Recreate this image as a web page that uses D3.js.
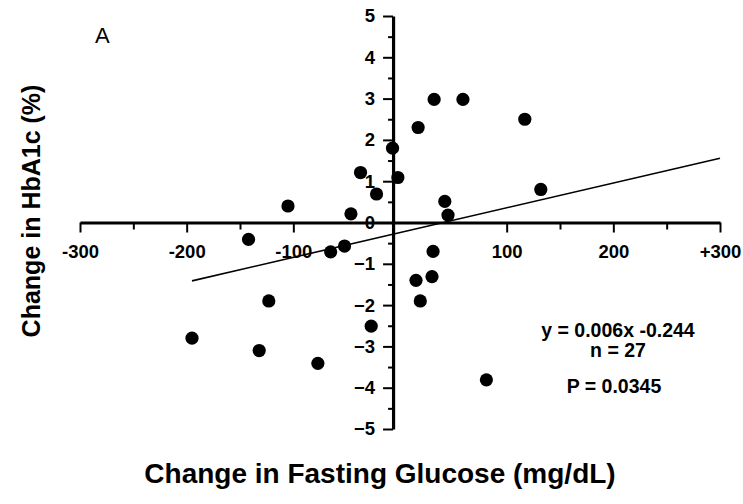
<!DOCTYPE html>
<html>
<head>
<meta charset="utf-8">
<script src="https://cdn.jsdelivr.net/npm/d3@7"></script>
<style>
  html, body { margin: 0; padding: 0; background: #fff; }
  svg { display: block; font-family: "Liberation Sans", Arial, sans-serif; }
</style>
</head>
<body>
<svg id="chart" width="743" height="504"></svg>
<script>
// ---- data ----
const glucoseChange = [-105, -46, -37, -22, -7, -2, 17, 32, 59, 117, 132, 42, 45,
  -142, -65, -52, -123, -195, -132, -77, -27, 15, 19, 31, 30, 81];
const hba1cChange = [0.40, 0.21, 1.21, 0.69, 1.80, 1.09, 2.30, 2.98, 2.98, 2.50, 0.80, 0.51, 0.18,
  -0.41, -0.71, -0.57, -1.90, -2.80, -3.10, -3.41, -2.51, -1.40, -1.90, -0.70, -1.31, -3.81];
const xMajorTicks = [-300, -200, -100, 100, 200, 300];
const xTickLabels = ["-300", "-200", "-100", "100", "200", "+300"];
const xMinorTicks = [-250, -150, 150, 250];
const yMajorTicks = [-5, -4, -3, -2, -1, 0, 1, 2, 3, 4, 5];
const yMinorTicks = [-4.5, -3.5, -2.5, -1.5, -0.5, 0.5, 1.5, 2.5, 3.5, 4.5];
const regSlope = 0.006;
const regIntercept = -0.244;
const regXEnd = 300;
const annotations = ["y = 0.006x -0.244", "n = 27", "P = 0.0345"];
const panelLabel = "A";
const xTitle = "Change in Fasting Glucose (mg/dL)";
const yTitle = "Change in HbA1c (%)";

// ---- layout ----
const svg = d3.select("#chart");
const x = d3.scaleLinear().domain([-300, 300]).range([80, 720]);
const y = d3.scaleLinear().domain([-5, 5]).range([429, 16]);
const yAxisAt = -6.5; // x value where vertical axis is drawn

const font = '"Liberation Sans", Arial, sans-serif';

// x axis minor ticks
svg.append("g")
  .attr("transform", `translate(0,${y(0)})`)
  .call(d3.axisBottom(x).tickValues(xMinorTicks).tickSize(7).tickFormat(""))
  .call(g => g.select(".domain").remove())
  .call(g => g.selectAll("line").attr("stroke", "#000").attr("stroke-width", 2));

// x axis major
svg.append("g")
  .attr("transform", `translate(0,${y(0)})`)
  .call(d3.axisBottom(x).tickValues(xMajorTicks).tickSize(10).tickSizeOuter(0).tickPadding(12)
    .tickFormat((d, i) => xTickLabels[i]))
  .call(g => g.select(".domain").attr("stroke", "#000").attr("stroke-width", 3.2))
  .call(g => g.selectAll(".tick line").attr("stroke", "#000").attr("stroke-width", 2))
  .call(g => g.selectAll("text").attr("fill", "#000").style("font-family", font)
    .style("font-size", "18.5px").style("font-weight", "bold"));

// y axis minor
svg.append("g")
  .attr("transform", `translate(${x(yAxisAt)},0)`)
  .call(d3.axisLeft(y).tickValues(yMinorTicks).tickSize(5).tickFormat(""))
  .call(g => g.select(".domain").remove())
  .call(g => g.selectAll("line").attr("stroke", "#000").attr("stroke-width", 2));

// y axis major
svg.append("g")
  .attr("transform", `translate(${x(yAxisAt)},0)`)
  .call(d3.axisLeft(y).tickValues(yMajorTicks).tickSize(10).tickSizeOuter(0).tickPadding(8)
    .tickFormat(d3.format("d")))
  .call(g => g.select(".domain").attr("stroke", "#000").attr("stroke-width", 3.2))
  .call(g => g.selectAll(".tick line").attr("stroke", "#000").attr("stroke-width", 2))
  .call(g => g.selectAll("text").attr("fill", "#000").style("font-family", font)
    .style("font-size", "18.5px").style("font-weight", "bold"));

// regression line
const xStart = d3.min(glucoseChange);
svg.append("line")
  .attr("x1", x(xStart)).attr("y1", y(regSlope * xStart + regIntercept))
  .attr("x2", x(regXEnd)).attr("y2", y(regSlope * regXEnd + regIntercept))
  .attr("stroke", "#000").attr("stroke-width", 1.6);

// points
svg.append("g").selectAll("circle")
  .data(glucoseChange.map((g, i) => [g, hba1cChange[i]]))
  .join("circle")
  .attr("cx", d => x(d[0]))
  .attr("cy", d => y(d[1]))
  .attr("r", 6.6)
  .attr("fill", "#000");

// panel label
svg.append("text")
  .attr("x", 95).attr("y", 43)
  .style("font-family", font).style("font-size", "22px")
  .text(panelLabel);

// annotations
const annY = [337, 357, 393];
const annX = [618, 618, 614];
svg.append("g").selectAll("text")
  .data(annotations)
  .join("text")
  .attr("x", (d, i) => annX[i]).attr("y", (d, i) => annY[i])
  .attr("text-anchor", "middle")
  .style("font-family", font).style("font-size", "19.5px").style("font-weight", "bold")
  .text(d => d);

// axis titles
svg.append("text")
  .attr("x", 380).attr("y", 483)
  .attr("text-anchor", "middle")
  .style("font-family", font).style("font-size", "28px").style("font-weight", "bold")
  .text(xTitle);

svg.append("text")
  .attr("transform", "translate(40,211) rotate(-90)")
  .attr("text-anchor", "middle")
  .style("font-family", font).style("font-size", "25px").style("font-weight", "bold")
  .text(yTitle);
</script>
</body>
</html>
